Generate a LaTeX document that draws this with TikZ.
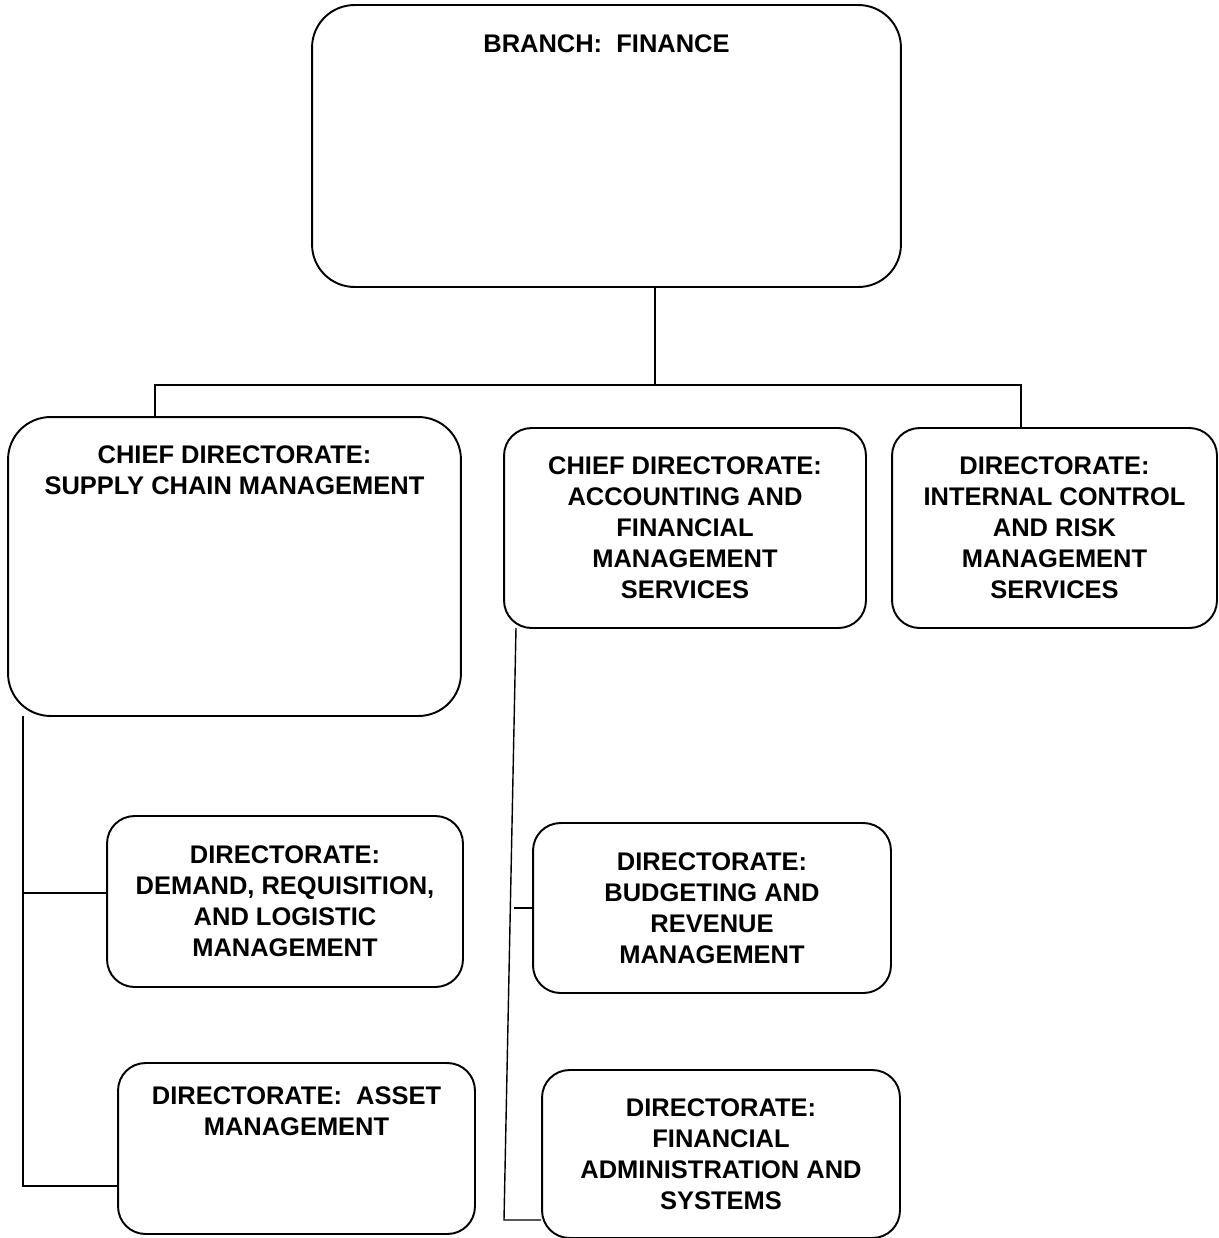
\documentclass[tikz,border=0pt]{standalone}
\usepackage{fontspec}
\setmainfont{Liberation Sans}
\usetikzlibrary{positioning, calc}

\begin{document}
\begin{tikzpicture}[
    x=0.02cm, y=-0.02cm,
    % Define styles
    box/.style={rectangle, draw=black, line width=1.1pt, rounded corners=0.55cm, align=center, inner sep=0pt,
        font=\fontsize{14.5}{17.6}\selectfont\bfseries},
    bigbox/.style={box, rounded corners=0.85cm},
    toptext/.style={anchor=north, align=center, font=\fontsize{14.5}{17.6}\selectfont\bfseries},
    link/.style={draw=black, line width=0.8pt},
    ]

    \useasboundingbox (0,0) rectangle (1218,1238);

    % Branch
    \node[bigbox, minimum width=11.78cm, minimum height=5.64cm,
        label={[toptext, yshift=-0.49cm]north:BRANCH:\ \ FINANCE}] (branch) at (606.5,146) {};

    % Chief directorates and directorate
    \node[bigbox, minimum width=9.06cm, minimum height=5.98cm,
        label={[toptext, yshift=-0.47cm]north:CHIEF DIRECTORATE:\\SUPPLY CHAIN MANAGEMENT}] (scm) at (234.5,566.5) {};
    \node[box, minimum width=7.24cm, minimum height=4cm] (afms) at (685,528)
        {CHIEF DIRECTORATE:\\ACCOUNTING AND\\FINANCIAL\\MANAGEMENT\\SERVICES};
    \node[box, minimum width=6.5cm, minimum height=4cm] (icrm) at (1054.5,528)
        {DIRECTORATE:\\INTERNAL CONTROL\\AND RISK\\MANAGEMENT\\SERVICES};

    % Directorates under supply chain management
    \node[box, minimum width=7.12cm, minimum height=3.42cm] (drlm) at (285,901.5)
        {DIRECTORATE:\\DEMAND, REQUISITION,\\AND LOGISTIC\\MANAGEMENT};
    \node[box, minimum width=7.14cm, minimum height=3.42cm,
        label={[toptext, yshift=-0.37cm]north:DIRECTORATE:\ \ ASSET\\MANAGEMENT}] (asset) at (296.5,1148.5) {};

    % Directorates under accounting
    \node[box, minimum width=7.16cm, minimum height=3.4cm] (brm) at (712,908)
        {DIRECTORATE:\\BUDGETING AND\\REVENUE\\MANAGEMENT};
    \node[box, minimum width=7.16cm, minimum height=3.36cm] (fas) at (721,1154)
        {DIRECTORATE:\\FINANCIAL\\ADMINISTRATION AND\\SYSTEMS};

    % Bus points
    \coordinate (busM) at (655,385);
    \coordinate (busL) at (155,385);
    \coordinate (busR) at (1021,385);
    \coordinate (spineL) at (23,716);
    \coordinate (spineLB) at (23,1186);
    \coordinate (spineM) at (516,628);
    \coordinate (spineMB) at (504,1220);

    % Top connectors
    \draw[link] (busM |- branch.south) -- (busM);
    \draw[link] (busL |- scm.north) -- (busL) -- (busR) -- (busR |- icrm.north);

    % Left spine
    \draw[link] (spineL) -- (spineLB) -- (spineLB -| asset.west);
    \draw[link] ([yshift=0.17cm]drlm.west) -- ([yshift=0.17cm]drlm.west -| spineL);

    % Middle spine
    \draw[link] (spineM) -- (spineMB) -- ([yshift=-1.32cm]fas.west);
    \draw[link] (brm.west) -- ++(-18,0);

\end{tikzpicture}
\end{document}
